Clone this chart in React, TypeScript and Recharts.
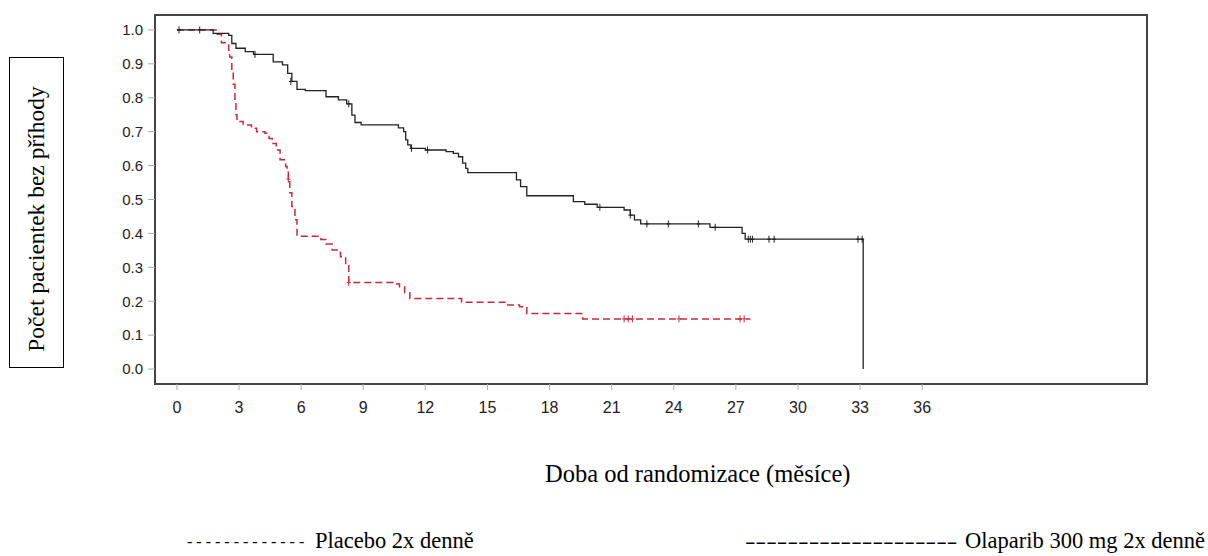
import React from "react";
import {
  ComposedChart,
  Line,
  Scatter,
  XAxis,
  YAxis,
  ReferenceArea,
} from "recharts";

// Kaplan-Meier steps (months, survival fraction)
const olaparibTime = [
  0, 1.75, 2.5, 2.65, 2.85, 3.3, 3.7, 4.65, 5.1, 5.35, 5.55, 5.8, 6.2, 7.2, 7.8,
  8.2, 8.45, 8.6, 8.9, 10.7, 10.95, 11.05, 11.15, 11.3, 12.0, 13.0, 13.35, 13.6,
  13.8, 13.95, 14.05, 16.4, 16.6, 16.9, 19.15, 19.7, 20.3, 21.6, 21.9, 22.1, 22.4,
  25.75, 27.3, 27.45, 33.15,
];
const olaparibSurv = [
  1.0, 0.99, 0.984, 0.96, 0.946, 0.936, 0.928, 0.906, 0.897, 0.872, 0.848, 0.825,
  0.821, 0.803, 0.794, 0.782, 0.749, 0.727, 0.72, 0.711, 0.7, 0.676, 0.661, 0.651,
  0.646, 0.641, 0.636, 0.626, 0.607, 0.592, 0.579, 0.558, 0.538, 0.511, 0.494,
  0.486, 0.477, 0.469, 0.454, 0.44, 0.428, 0.418, 0.4, 0.383, 0,
];

const placeboTime = [
  0, 1.9, 2.15, 2.5, 2.55, 2.65, 2.72, 2.8, 2.85, 2.9, 3.2, 3.6, 3.85, 4.25, 4.45,
  4.6, 4.8, 4.98, 5.25, 5.32, 5.38, 5.45, 5.55, 5.7, 5.8, 6.95, 7.2, 7.5, 7.9,
  8.15, 8.3, 10.45, 10.75, 11.0, 11.25, 13.75, 15.9, 16.55, 16.9, 19.6, 27.7,
];
const placeboSurv = [
  1.0, 0.987, 0.962, 0.94, 0.92, 0.88, 0.84, 0.79, 0.75, 0.73, 0.72, 0.71, 0.7,
  0.695, 0.68, 0.665, 0.646, 0.617, 0.597, 0.587, 0.56, 0.52, 0.479, 0.44, 0.392,
  0.382, 0.369, 0.351, 0.331, 0.307, 0.255, 0.251, 0.243, 0.225, 0.208, 0.197,
  0.189, 0.184, 0.164, 0.148, 0.148,
];

// censored observations
const olaparibCensorTime = [
  0.1, 1.1, 3.77, 5.5, 8.3, 11.33, 12.1, 20.43, 21.9, 22.7, 23.74, 25.19, 26.0,
  27.6, 27.7, 27.8, 28.6, 28.85, 32.9, 33.1,
];
const olaparibCensorSurv = [
  1.0, 1.0, 0.928, 0.848, 0.782, 0.651, 0.646, 0.477, 0.454, 0.428, 0.428, 0.428,
  0.418, 0.383, 0.383, 0.383, 0.383, 0.383, 0.383, 0.383,
];
const placeboCensorTime = [5.38, 8.3, 21.6, 21.8, 22.0, 24.25, 27.2, 27.4];
const placeboCensorSurv = [0.56, 0.255, 0.148, 0.148, 0.148, 0.148, 0.148, 0.148];

const xTicks = [0, 3, 6, 9, 12, 15, 18, 21, 24, 27, 30, 33, 36];
const yTicks = [0, 0.1, 0.2, 0.3, 0.4, 0.5, 0.6, 0.7, 0.8, 0.9, 1.0];

const X_DOMAIN: [number, number] = [-1.06, 46.86];
const Y_DOMAIN: [number, number] = [-0.044, 1.044];

const zip = (t: number[], s: number[]) => t.map((v, i) => ({ t: v, s: s[i] }));

const olaparib = zip(olaparibTime, olaparibSurv);
const placebo = zip(placeboTime, placeboSurv);
const olaparibCensor = zip(olaparibCensorTime, olaparibCensorSurv);
const placeboCensor = zip(placeboCensorTime, placeboCensorSurv);

const RED = "#c9283c";
const BLACK = "#222";
const serif = '"Liberation Serif", "Times New Roman", serif';
const sans = '"Liberation Sans", Arial, sans-serif';

const censorShape = (color: string) => (props: any) => {
  const { cx, cy } = props;
  return (
    <g>
      <line x1={cx} x2={cx} y1={cy - 3.5} y2={cy + 3.5} stroke={color} strokeWidth={1} />
      <line x1={cx - 2} x2={cx + 2} y1={cy} y2={cy} stroke={color} strokeWidth={1} />
    </g>
  );
};

const textBase: React.CSSProperties = {
  position: "absolute",
  fontFamily: serif,
  lineHeight: 1,
  whiteSpace: "nowrap",
  color: "#000",
};

export default function App() {
  return (
    <div
      style={{
        position: "absolute",
        left: 0,
        top: 0,
        width: 1208,
        height: 556,
        background: "#fff",
        overflow: "hidden",
      }}
    >
      <div style={{ position: "absolute", left: 0, top: 0 }}>
        <ComposedChart
          width={1208}
          height={556}
          margin={{ top: 15, right: 61, bottom: 132, left: 95 }}
        >
          <XAxis
            type="number"
            dataKey="t"
            domain={X_DOMAIN}
            ticks={xTicks}
            allowDataOverflow
            axisLine={false}
            tickLine={{ stroke: "#aaa" }}
            tickSize={6}
            tickMargin={12}
            height={40}
            tick={{ fontSize: 16, fill: "#222", fontFamily: sans }}
          />
          <YAxis
            type="number"
            dataKey="s"
            domain={Y_DOMAIN}
            ticks={yTicks}
            allowDataOverflow
            axisLine={false}
            tickLine={{ stroke: "#aaa" }}
            tickSize={7}
            tickMargin={5}
            width={60}
            tickFormatter={(v: number) => v.toFixed(1)}
            tick={{ fontSize: 15, fill: "#222", fontFamily: sans }}
          />
          <ReferenceArea
            x1={X_DOMAIN[0]}
            x2={X_DOMAIN[1]}
            y1={Y_DOMAIN[0]}
            y2={Y_DOMAIN[1]}
            fill="none"
            stroke="#444"
            strokeWidth={2}
            ifOverflow="visible"
          />
          <Line
            data={placebo}
            dataKey="s"
            type="stepAfter"
            stroke={RED}
            strokeWidth={1.5}
            strokeDasharray="7 4"
            dot={false}
            isAnimationActive={false}
          />
          <Line
            data={olaparib}
            dataKey="s"
            type="stepAfter"
            stroke={BLACK}
            strokeWidth={1.3}
            dot={false}
            isAnimationActive={false}
          />
          <Scatter
            data={placeboCensor}
            dataKey="s"
            shape={censorShape(RED)}
            isAnimationActive={false}
          />
          <Scatter
            data={olaparibCensor}
            dataKey="s"
            shape={censorShape(BLACK)}
            isAnimationActive={false}
          />
        </ComposedChart>
      </div>

      {/* boxed y-axis title */}
      <div
        style={{
          position: "absolute",
          left: 9,
          top: 57,
          width: 55,
          height: 311,
          border: "1.5px solid #000",
          boxSizing: "border-box",
        }}
      >
        <div
          style={{
            ...textBase,
            left: "50%",
            top: "52%",
            fontSize: 23.5,
            transform: "translate(-50%, -50%) rotate(-90deg)",
          }}
        >
          Počet pacientek bez příhody
        </div>
      </div>

      <div style={{ ...textBase, left: 545, top: 462, fontSize: 24.5 }}>
        Doba od randomizace (měsíce)
      </div>

      {/* legend */}
      <div style={{ ...textBase, left: 187, top: 534, fontSize: 16 }}>
        - - - - - - - - - - - - -
      </div>
      <div style={{ ...textBase, left: 315, top: 530, fontSize: 22.5 }}>
        Placebo 2x denně
      </div>
      <div
        style={{
          ...textBase,
          left: 745,
          top: 530,
          fontSize: 22,
          transform: "scaleX(1.45)",
          transformOrigin: "left center",
        }}
      >
        --------------------
      </div>
      <div style={{ ...textBase, right: 3, top: 530, fontSize: 22.5 }}>
        Olaparib 300 mg 2x denně
      </div>
    </div>
  );
}
